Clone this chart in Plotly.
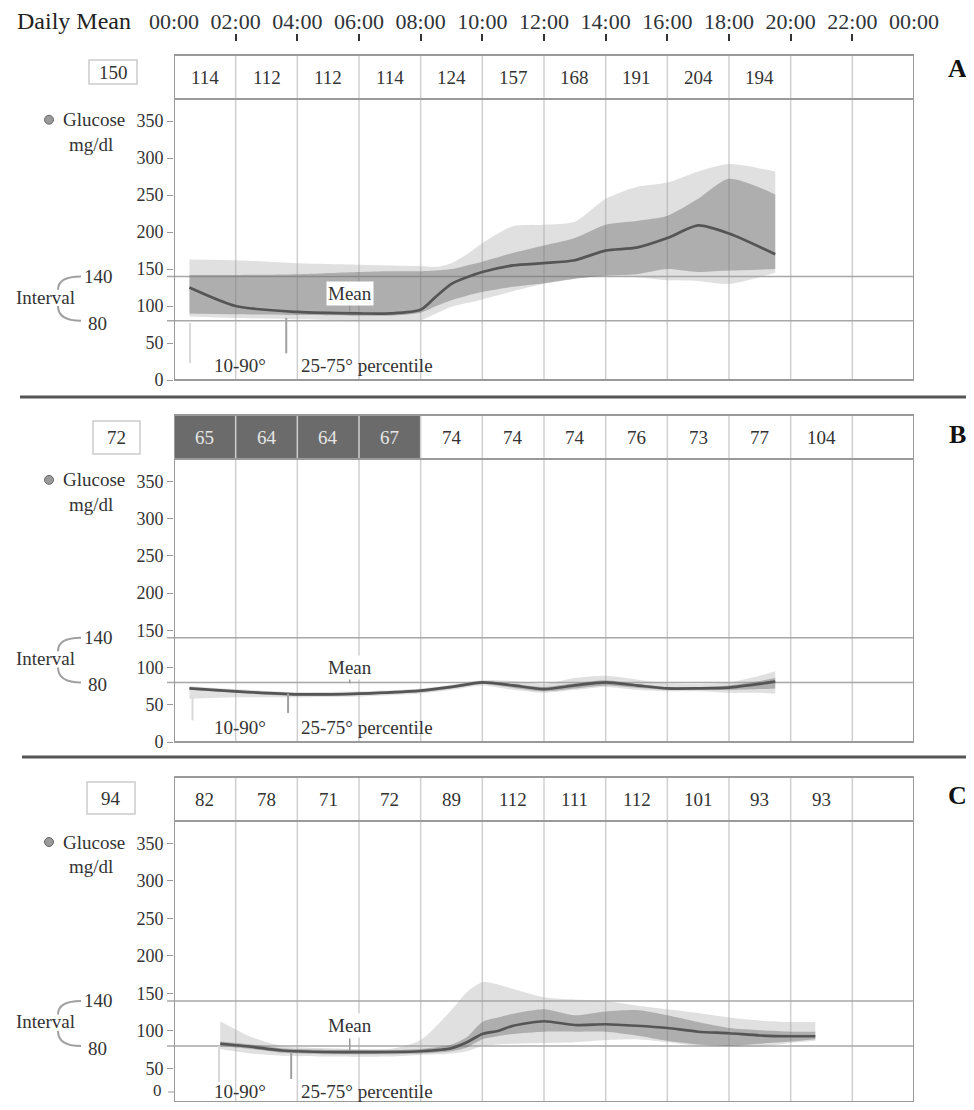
import plotly.graph_objects as go

# ---------------- data ----------------
time_ticks = [0, 2, 4, 6, 8, 10, 12, 14, 16, 18, 20, 22, 24]
time_labels = ["00:00", "02:00", "04:00", "06:00", "08:00", "10:00", "12:00",
               "14:00", "16:00", "18:00", "20:00", "22:00", "00:00"]
y_ticks = [0, 50, 100, 150, 200, 250, 300, 350]
interval_low, interval_high = 80, 140
hypo_limit = 70

# Panel A
daily_mean_A = 150
header_A = [114, 112, 112, 114, 124, 157, 168, 191, 204, 194, None, None]
hours_A = [0.5, 2, 4, 6, 7, 8, 8.5, 9, 9.5, 10, 11, 12, 13, 14, 15, 16, 17, 18, 19.5]
mean_A = [125, 100, 92, 90, 90, 95, 113, 130, 139, 146, 155, 158, 162, 175, 179, 192, 209, 198, 170]
p90_A = [163, 162, 158, 156, 155, 154, 153, 158, 170, 185, 208, 210, 214, 245, 261, 267, 282, 292, 282]
p75_A = [142, 142, 143, 146, 147, 147, 148, 150, 155, 160, 172, 182, 192, 210, 215, 222, 245, 272, 251]
p25_A = [90, 89, 88, 87, 87, 91, 100, 108, 114, 119, 126, 131, 137, 141, 143, 150, 146, 148, 150]
p10_A = [86, 84, 82, 80, 80, 81, 90, 99, 104, 109, 120, 130, 137, 141, 139, 135, 134, 130, 145]

# Panel B
daily_mean_B = 72
header_B = [65, 64, 64, 67, 74, 74, 74, 76, 73, 77, 104, None]
hours_B = [0.5, 2, 4, 6, 8, 9, 10, 11, 12, 13, 14, 15, 16, 17, 18, 19, 19.5]
mean_B = [72, 68, 64, 65, 69, 74, 80, 76, 71, 76, 80, 76, 72, 72, 73, 78, 81]
p90_B = [75, 71, 67, 68, 72, 77, 83, 82, 78, 86, 89, 84, 79, 78, 80, 89, 95]
p75_B = [73, 69, 65, 66, 70, 75, 81, 78, 74, 79, 83, 78, 74, 74, 76, 82, 86]
p25_B = [70, 66, 62, 63, 67, 72, 78, 73, 68, 72, 76, 73, 70, 70, 70, 71, 72]
p10_B = [58, 60, 60, 61, 65, 70, 76, 70, 66, 70, 74, 70, 68, 68, 66, 66, 65]

# Panel C
daily_mean_C = 94
header_C = [82, 78, 71, 72, 89, 112, 111, 112, 101, 93, 93, None]
hours_C = [1.5, 2.5, 3.5, 5, 7, 8, 9, 9.5, 10, 10.5, 11, 12, 13, 14, 15, 16, 17, 18, 19, 20, 20.8]
mean_C = [83, 79, 74, 72, 72, 73, 77, 85, 96, 100, 107, 113, 108, 109, 107, 104, 99, 97, 94, 93, 93]
p90_C = [113, 92, 80, 77, 76, 88, 128, 152, 165, 162, 156, 145, 142, 140, 134, 129, 124, 118, 114, 112, 112]
p75_C = [86, 82, 77, 75, 75, 76, 82, 92, 112, 118, 123, 129, 121, 126, 128, 121, 112, 104, 101, 99, 99]
p25_C = [80, 76, 71, 69, 69, 70, 73, 78, 89, 93, 96, 99, 99, 99, 94, 87, 82, 80, 83, 86, 89]
p10_C = [76, 70, 67, 66, 66, 68, 70, 73, 80, 82, 83, 84, 85, 88, 89, 85, 80, 79, 79, 84, 87]

# ---------------- layout helpers ----------------
# the page body has an 8px default margin: size the figure to fit and map
# reference-pixel positions into figure space
OFF = 8
W, H = 974 - 2 * OFF, 1110 - 2 * OFF
def fx(px): return (px - OFF) / W
def fy(py): return 1 - (py - OFF) / H

X_L, X_R = 174, 914
Y_MAX = 380
SERIF = "Liberation Serif, Times New Roman, serif"
TXT = "#333333"

panels = [
    dict(letter="A", head_top=55, head_bot=99, bottom=380, y_lo=0, daily=daily_mean_A,
         header=header_A, hours=hours_A, mean=mean_A, p90=p90_A, p75=p75_A, p25=p25_A, p10=p10_A,
         box=(89, 137, 60, 84), letter_y=68, mean_lbl=(5.7, 117, 103, 92),
         ptr1=(0.52, 77, 23), ptr2=(3.64, 84, 36)),
    dict(letter="B", head_top=415, head_bot=459, bottom=742, y_lo=0, daily=daily_mean_B,
         header=header_B, hours=hours_B, mean=mean_B, p90=p90_B, p75=p75_B, p25=p25_B, p10=p10_B,
         box=(93, 140, 421, 454), letter_y=434, mean_lbl=(5.7, 100, 87, 79),
         ptr1=(0.6, 60, 29), ptr2=(3.7, 65, 39)),
    # panel C runs past the bottom of the picture: its lowest few units are cut off
    dict(letter="C", head_top=777, head_bot=821, bottom=1102, y_lo=5.3, daily=daily_mean_C,
         header=header_C, hours=hours_C, mean=mean_C, p90=p90_C, p75=p75_C, p25=p25_C, p10=p10_C,
         box=(87, 135, 782, 814), letter_y=795, mean_lbl=(5.7, 107, 90, 74),
         ptr1=(1.46, 80, 32), ptr2=(3.8, 72, 36)),
]

fig = go.Figure()
shapes, annotations = [], []
layout = dict(width=W, height=H, margin=dict(l=0, r=0, t=0, b=0, pad=0, autoexpand=False),
              paper_bgcolor="white", plot_bgcolor="white", showlegend=False,
              font=dict(family=SERIF, color=TXT))

LIGHT = "rgba(160,160,160,0.33)"
DARK = "rgba(100,100,100,0.40)"


def ann(**kw):
    d = dict(showarrow=False, xanchor="center", yanchor="middle")
    d.update(kw)
    annotations.append(d)


def font(size, color=TXT):
    return dict(size=size, family=SERIF, color=color)


for i, p in enumerate(panels):
    sfx = "" if i == 0 else str(i + 1)
    xref, yref = "x" + sfx, "y" + sfx
    layout["xaxis" + sfx] = dict(domain=[fx(X_L), fx(X_R)], range=[0, 24], visible=False,
                                 showgrid=False, zeroline=False, anchor=yref, fixedrange=True,
                                 automargin=False)
    layout["yaxis" + sfx] = dict(domain=[fy(p["bottom"]), fy(p["head_bot"])],
                                 range=[p["y_lo"], Y_MAX],
                                 tickvals=y_ticks, ticks="outside", ticklen=6, tickcolor="#999",
                                 tickwidth=1, showgrid=False, zeroline=False, showline=False,
                                 tickfont=font(18), anchor=xref, fixedrange=True, automargin=False)

    common = dict(xaxis=xref, yaxis=yref, hoverinfo="skip", showlegend=False)
    spl = dict(shape="spline", smoothing=0.7)
    fig.add_trace(go.Scatter(x=p["hours"], y=p["p10"], mode="lines",
                             line=dict(width=0, **spl), **common))
    fig.add_trace(go.Scatter(x=p["hours"], y=p["p90"], mode="lines", fill="tonexty",
                             fillcolor=LIGHT, line=dict(width=0, **spl), **common))
    fig.add_trace(go.Scatter(x=p["hours"], y=p["p25"], mode="lines",
                             line=dict(width=0, **spl), **common))
    fig.add_trace(go.Scatter(x=p["hours"], y=p["p75"], mode="lines", fill="tonexty",
                             fillcolor=DARK, line=dict(width=0, **spl), **common))
    fig.add_trace(go.Scatter(x=p["hours"], y=p["mean"], mode="lines",
                             line=dict(width=2.7, color="#555555", **spl), **common))

    ht, hb, bt = fy(p["head_top"]), fy(p["head_bot"]), fy(p["bottom"])

    # header cells
    for k, v in enumerate(p["header"]):
        x0, x1 = time_ticks[k], time_ticks[k + 1]
        dark = v is not None and v < hypo_limit
        if dark:
            shapes.append(dict(type="rect", xref=xref, yref="paper", x0=x0, x1=x1, y0=hb, y1=ht,
                               fillcolor="#6b6b6b", line=dict(width=0), layer="below"))
        if v is not None:
            ann(xref=xref, yref="paper", x=(x0 + x1) / 2, y=(ht + hb) / 2, text=str(v),
                font=font(19, "#e6e6e6" if dark else TXT))
    # vertical grid lines (through header and plot)
    for t in time_ticks[1:-1]:
        shapes.append(dict(type="line", xref=xref, yref="paper", x0=t, x1=t, y0=bt, y1=ht,
                           line=dict(color="#cfcfcf", width=1.5), layer="below"))
    # interval lines
    for lv in (interval_high, interval_low):
        shapes.append(dict(type="line", xref="paper", yref=yref, x0=fx(167), x1=fx(X_R),
                           y0=lv, y1=lv, line=dict(color="#a8a8a8", width=1.5), layer="below"))
    # borders
    shapes.append(dict(type="rect", xref=xref, yref="paper", x0=0, x1=24, y0=bt, y1=ht,
                       line=dict(color="#9a9a9a", width=2)))
    shapes.append(dict(type="line", xref=xref, yref="paper", x0=0, x1=24, y0=hb, y1=hb,
                       line=dict(color="#9a9a9a", width=2)))

    # "0" label of panel C sits just above the picture edge
    if p["y_lo"] > 0:
        ann(xref="paper", yref="paper", x=fx(164), y=fy(1090), xanchor="right",
            text=str(y_ticks[0]), font=font(17))
        shapes.append(dict(type="line", xref="paper", yref="paper", x0=fx(168), x1=fx(174),
                           y0=fy(1092), y1=fy(1092), line=dict(color="#999", width=1)))

    # daily mean box
    bx0, bx1, by0, by1 = p["box"]
    shapes.append(dict(type="rect", xref="paper", yref="paper", x0=fx(bx0), x1=fx(bx1),
                       y0=fy(by1), y1=fy(by0), line=dict(color="#cccccc", width=1.5),
                       fillcolor="white"))
    ann(xref="paper", yref="paper", x=fx((bx0 + bx1) / 2), y=fy((by0 + by1) / 2),
        text=str(p["daily"]), font=font(19))
    # panel letter
    ann(xref="paper", yref="paper", x=fx(957), y=fy(p["letter_y"]),
        text="<b>%s</b>" % p["letter"], font=font(26, "#111"))

    # left labels
    shapes.append(dict(type="circle", xref="paper", yref=yref, x0=fx(44.5), x1=fx(53.5),
                       y0=352 - 6, y1=352 + 6, fillcolor="#9a9a9a",
                       line=dict(color="#666", width=1)))
    ann(xref="paper", yref=yref, x=fx(127), y=352, xanchor="right", text="Glucose", font=font(19))
    ann(xref="paper", yref=yref, x=fx(91), y=319, text="mg/dl", font=font(19))
    ann(xref="paper", yref=yref, x=fx(45), y=112, text="Interval", font=font(19))
    ann(xref="paper", yref=yref, x=fx(98), y=interval_high, text=str(interval_high), font=font(19))
    ann(xref="paper", yref=yref, x=fx(97), y=interval_low - 3, text=str(interval_low), font=font(19))
    # brackets
    shapes.append(dict(type="path", xref="paper", yref=yref,
                       path="M %f,%f Q %f,%f %f,%f" % (fx(58), 122, fx(58), 140, fx(81), 140),
                       line=dict(color="#a0a0a0", width=2)))
    shapes.append(dict(type="path", xref="paper", yref=yref,
                       path="M %f,%f Q %f,%f %f,%f" % (fx(58), 100, fx(58), 80, fx(81), 80),
                       line=dict(color="#a0a0a0", width=2)))

    # Mean label + pointer
    mx, my, m0, m1 = p["mean_lbl"]
    shapes.append(dict(type="line", xref=xref, yref=yref, x0=mx, x1=mx, y0=m0, y1=m1,
                       line=dict(color="#999", width=1.5)))
    ann(xref=xref, yref=yref, x=mx, y=my, text="Mean", bgcolor="white", borderpad=1, font=font(19))
    # percentile labels + pointers
    a, b0, b1 = p["ptr1"]
    shapes.append(dict(type="line", xref=xref, yref=yref, x0=a, x1=a, y0=b0, y1=b1,
                       line=dict(color="#d8d8d8", width=2)))
    a, b0, b1 = p["ptr2"]
    shapes.append(dict(type="line", xref=xref, yref=yref, x0=a, x1=a, y0=b0, y1=b1,
                       line=dict(color="#a0a0a0", width=2)))
    ann(xref=xref, yref=yref, x=2.15, y=19, text="10-90°", font=font(19))
    ann(xref=xref, yref=yref, x=4.05, y=19, xanchor="left", text="25-75° percentile", font=font(19))

# separators between panels
for sy, sx in ((397, 20), (757, 22)):
    shapes.append(dict(type="line", xref="paper", yref="paper", x0=fx(sx), x1=1,
                       y0=fy(sy), y1=fy(sy), line=dict(color="#555", width=3)))

# top time axis
fig.add_trace(go.Scatter(x=[0, 24], y=[0, 0], mode="markers", marker=dict(opacity=0),
                         xaxis="x4", yaxis="y4", hoverinfo="skip", showlegend=False))
layout["xaxis4"] = dict(domain=[fx(X_L), fx(X_R)], range=[0, 24], side="top", anchor="free",
                        position=fy(33), tickvals=time_ticks, ticktext=time_labels,
                        ticks="inside", ticklen=7, tickwidth=1.5, tickcolor="#333",
                        showline=False, showgrid=False, zeroline=False, automargin=False,
                        tickfont=font(22, "#2f3338"), fixedrange=True)
layout["yaxis4"] = dict(domain=[fy(46), fy(36)], range=[-1, 1], visible=False, anchor="x4",
                        fixedrange=True, automargin=False)
ann(xref="paper", yref="paper", x=fx(74), y=fy(21), text="Daily Mean", font=font(24, "#222"))

layout["shapes"] = shapes
layout["annotations"] = annotations
fig.update_layout(**layout)
fig.write_html("out.html")
